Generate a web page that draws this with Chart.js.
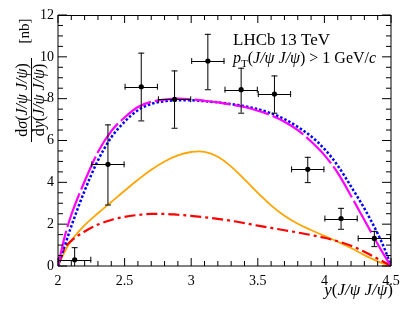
<!DOCTYPE html>
<html>
<head>
<meta charset="utf-8">
<script src="https://cdn.jsdelivr.net/npm/chart.js@4"></script>
<style>
  html, body { margin: 0; padding: 0; background: #fff; }
</style>
</head>
<body>
<canvas id="chartDiJpsi" width="412" height="318"></canvas>
<script>
// rapidity grid used by the model curves
const rapidity = [2.0, 2.05, 2.1, 2.2, 2.3, 2.4, 2.5, 2.6, 2.7, 2.8, 2.9, 3.0, 3.1, 3.2,
  3.3, 3.4, 3.5, 3.6, 3.7, 3.8, 3.9, 4.0, 4.1, 4.2, 4.3, 4.4, 4.45, 4.5];

const curveMagenta = [0, 1.4, 2.45, 4.05, 5.45, 6.45, 7.1, 7.6, 7.85, 7.95, 8.0, 7.97, 7.9, 7.82,
  7.72, 7.6, 7.42, 7.2, 6.9, 6.5, 5.95, 5.3, 4.45, 3.35, 2.2, 1.05, 0.5, 0];
const curveBlue = [0, 0.95, 1.9, 3.6, 5.05, 6.15, 6.9, 7.45, 7.75, 7.88, 7.92, 7.92, 7.88, 7.82,
  7.74, 7.64, 7.5, 7.3, 7.02, 6.65, 6.2, 5.6, 4.8, 3.8, 2.75, 1.55, 0.85, 0];
const curveOrange = [0, 0.68, 1.22, 1.95, 2.52, 3.06, 3.6, 4.12, 4.6, 5.0, 5.29, 5.45, 5.46, 5.22,
  4.75, 4.14, 3.5, 2.9, 2.4, 2.02, 1.72, 1.44, 1.16, 0.86, 0.52, 0.22, 0.1, 0];
const curveRed = [0, 0.85, 1.2, 1.65, 1.98, 2.2, 2.35, 2.44, 2.49, 2.49, 2.45, 2.4, 2.33, 2.25,
  2.16, 2.05, 1.93, 1.82, 1.71, 1.6, 1.48, 1.35, 1.18, 0.97, 0.68, 0.35, 0.18, 0];

// LHCb measurement
const binCenters = [2.125, 2.375, 2.625, 2.875, 3.125, 3.375, 3.625, 3.875, 4.125, 4.375];
const binHalfWidth = [0.125, 0.125, 0.125, 0.125, 0.125, 0.125, 0.125, 0.125, 0.125, 0.125];
const xsec = [0.3, 4.86, 8.57, 7.97, 9.8, 8.43, 8.22, 4.62, 2.27, 1.32];
const xsecUp = [0.9, 6.77, 10.2, 9.35, 11.1, 9.48, 9.11, 5.22, 2.78, 1.68];
const xsecDown = [0, 2.94, 6.96, 6.61, 8.45, 7.33, 7.33, 4.01, 1.78, 0.95];

const xTicks = [2, 2.5, 3, 3.5, 4, 4.5];
const yTicks = [0, 2, 4, 6, 8, 10, 12];

const SERIF = '"Liberation Serif", "DejaVu Serif", serif';

function drawRuns(ctx, runs, x, y, align, size) {
  // runs: [text, 'r' roman | 'i' italic | 's' subscript]
  const fontFor = st => (st === 'i' ? 'italic ' : '') + (st === 's' ? Math.round(size * 0.7) : size) + 'px ' + SERIF;
  let total = 0;
  runs.forEach(([t, st]) => { ctx.font = fontFor(st); total += ctx.measureText(t).width; });
  let cx = align === 'right' ? x - total : align === 'center' ? x - total / 2 : x;
  ctx.textAlign = 'left';
  ctx.textBaseline = 'alphabetic';
  runs.forEach(([t, st]) => {
    ctx.font = fontFor(st);
    ctx.fillText(t, cx, st === 's' ? y + size * 0.25 : y);
    cx += ctx.measureText(t).width;
  });
}

const toPts = ys => rapidity.map((x, i) => ({ x: x, y: ys[i] }));

// frame with inner ticks on all four sides
const framePlugin = {
  id: 'frame',
  afterDatasetsDraw(chart) {
    const { ctx, chartArea: a, scales: { x, y } } = chart;
    ctx.save();
    ctx.strokeStyle = '#000';
    ctx.lineWidth = 1;
    ctx.beginPath();
    ctx.moveTo(a.left, a.top + 0.5); ctx.lineTo(a.right, a.top + 0.5);
    ctx.moveTo(a.left, a.top); ctx.lineTo(a.left, a.bottom);
    ctx.moveTo(a.right, a.top); ctx.lineTo(a.right, a.bottom);
    ctx.moveTo(a.left, a.bottom); ctx.lineTo(a.right, a.bottom);
    for (let i = 0; i <= 25; i++) {
      const v = 2 + i * 0.1;
      const px = x.getPixelForValue(v);
      const len = i % 5 === 0 ? 8 : 5;
      ctx.moveTo(px, a.bottom); ctx.lineTo(px, a.bottom - len);
      ctx.moveTo(px, a.top); ctx.lineTo(px, a.top + len);
    }
    for (let i = 0; i <= 24; i++) {
      const v = i * 0.5;
      const py = y.getPixelForValue(v);
      const len = i % 4 === 0 ? 9 : 5;
      ctx.moveTo(a.left, py); ctx.lineTo(a.left + len, py);
      ctx.moveTo(a.right, py); ctx.lineTo(a.right - len, py);
    }
    ctx.stroke();
    ctx.restore();
  }
};

const errorBarPlugin = {
  id: 'errorBars',
  afterDatasetsDraw(chart) {
    const { ctx, chartArea: a, scales: { x, y } } = chart;
    ctx.save();
    ctx.beginPath();
    ctx.rect(a.left, a.top, a.right - a.left, a.bottom - a.top);
    ctx.clip();
    ctx.strokeStyle = '#000';
    ctx.lineWidth = 1;
    binCenters.forEach((c, i) => {
      const px = x.getPixelForValue(c);
      const py = y.getPixelForValue(xsec[i]);
      const x0 = x.getPixelForValue(c - binHalfWidth[i]);
      const x1 = x.getPixelForValue(c + binHalfWidth[i]);
      const yUp = y.getPixelForValue(xsecUp[i]);
      const yDn = y.getPixelForValue(xsecDown[i]);
      ctx.beginPath();
      ctx.moveTo(px, yUp); ctx.lineTo(px, yDn);
      ctx.moveTo(px - 3, yUp + 0.5); ctx.lineTo(px + 3, yUp + 0.5);
      ctx.moveTo(px - 3, yDn + 0.5); ctx.lineTo(px + 3, yDn + 0.5);
      ctx.moveTo(x0, Math.round(py) + 0.5); ctx.lineTo(x1, Math.round(py) + 0.5);
      ctx.moveTo(x0 + 0.5, py - 3); ctx.lineTo(x0 + 0.5, py + 3);
      ctx.moveTo(x1 - 0.5, py - 3); ctx.lineTo(x1 - 0.5, py + 3);
      ctx.stroke();
      ctx.beginPath();
      ctx.fillStyle = '#000';
      ctx.arc(px, py, 2.6, 0, Math.PI * 2);
      ctx.fill();
    });
    ctx.restore();
  }
};

const textPlugin = {
  id: 'texts',
  afterDraw(chart) {
    const { ctx } = chart;
    ctx.save();
    ctx.fillStyle = '#000';
    drawRuns(ctx, [['LHCb 13 TeV', 'r']], 233, 45, 'left', 17);
    drawRuns(ctx, [['p', 'i'], ['T', 's'], ['(', 'r'], ['J/ψ J/ψ', 'i'], [')', 'r'],
      [' > 1 GeV/', 'r'], ['c', 'i']], 233, 63, 'left', 16);
    drawRuns(ctx, [['y', 'i'], ['(', 'r'], ['J/ψ J/ψ', 'i'], [')', 'r']], 393, 295, 'right', 17);

    // rotated y title: fraction plus unit
    ctx.save();
    ctx.translate(31, 100);
    ctx.rotate(-Math.PI / 2);
    drawRuns(ctx, [['d', 'r'], ['σ', 'i'], ['(', 'r'], ['J/ψ J/ψ', 'i'], [')', 'r']], 0, -4.5, 'center', 16);
    drawRuns(ctx, [['d', 'r'], ['y', 'i'], ['(', 'r'], ['J/ψ J/ψ', 'i'], [')', 'r']], 0, 13, 'center', 16);
    ctx.beginPath();
    ctx.lineWidth = 1;
    ctx.strokeStyle = '#000';
    ctx.moveTo(-42, 0.5); ctx.lineTo(42, 0.5);
    ctx.stroke();
    ctx.restore();

    ctx.save();
    ctx.translate(29, 31);
    ctx.rotate(-Math.PI / 2);
    drawRuns(ctx, [['[nb]', 'r']], 0, 0, 'center', 15);
    ctx.restore();

    ctx.restore();
  }
};

const ctx = document.getElementById('chartDiJpsi').getContext('2d');

new Chart(ctx, {
  type: 'scatter',
  data: {
    datasets: [
      {
        type: 'line', label: 'magenta', data: toPts(curveMagenta),
        borderColor: '#ff00ff', borderWidth: 2.2, borderDash: [36, 4],
        pointRadius: 0, cubicInterpolationMode: 'monotone', fill: false
      },
      {
        type: 'line', label: 'blue', data: toPts(curveBlue),
        borderColor: '#0000ff', borderWidth: 2.5, borderDash: [2.5, 2],
        pointRadius: 0, cubicInterpolationMode: 'monotone', fill: false
      },
      {
        type: 'line', label: 'red', data: toPts(curveRed),
        borderColor: '#ff0000', borderWidth: 2.2, borderDash: [11, 4, 3, 4],
        pointRadius: 0, cubicInterpolationMode: 'monotone', fill: false
      },
      {
        type: 'line', label: 'orange', data: toPts(curveOrange),
        borderColor: '#ffa500', borderWidth: 1.8,
        pointRadius: 0, tension: 0.4, fill: false
      }
    ]
  },
  options: {
    responsive: false,
    animation: false,
    devicePixelRatio: 1,
    layout: { padding: { left: 0, top: 15, right: 21, bottom: 0 } },
    plugins: { legend: { display: false }, tooltip: { enabled: false } },
    scales: {
      x: {
        type: 'linear', min: 2, max: 4.5,
        afterBuildTicks: s => { s.ticks = xTicks.map(v => ({ value: v })); },
        afterFit: s => { s.height = 52; },
        grid: { display: false, drawTicks: false },
        border: { display: false },
        ticks: {
          color: '#000', padding: 7, maxRotation: 0, autoSkip: false,
          font: { family: SERIF, size: 14 },
          callback: v => String(v)
        }
      },
      y: {
        type: 'linear', min: 0, max: 12,
        afterBuildTicks: s => { s.ticks = yTicks.map(v => ({ value: v })); },
        afterFit: s => { s.width = 58; },
        grid: { display: false, drawTicks: false },
        border: { display: false },
        ticks: {
          color: '#000', padding: 4,
          font: { family: SERIF, size: 14 },
          callback: v => String(v)
        }
      }
    }
  },
  plugins: [framePlugin, errorBarPlugin, textPlugin]
});
</script>
</body>
</html>
